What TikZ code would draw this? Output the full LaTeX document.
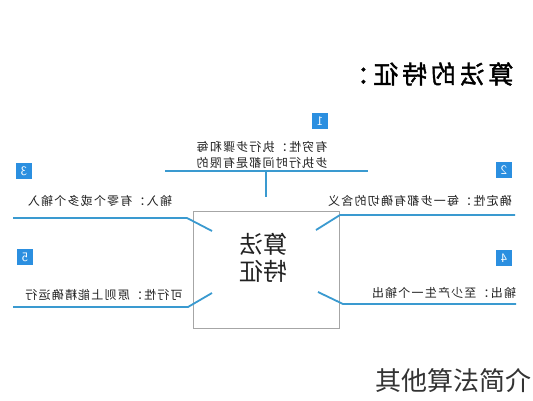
\documentclass[tikz,border=0pt]{standalone}
\usepackage{fontspec}
\usepackage{graphicx}
\newfontfamily\cjk{Noto Sans CJK SC}
\newfontfamily\cjksp[LetterSpace=10]{Noto Sans CJK SC}
\newfontfamily\cjktitle[LetterSpace=15,FakeBold=1.5]{Noto Sans CJK SC}
\definecolor{lineblue}{HTML}{3A9AD0}
\definecolor{badgeblue}{HTML}{2B8FE0}
\definecolor{txt}{HTML}{222222}
\tikzset{
  conn/.style={lineblue, line width=1.8pt},
  badge/.style={fill=badgeblue, text=white, minimum width=16pt, minimum height=16pt, inner sep=0pt, font=\sffamily\fontsize{13}{13}\selectfont},
  feat/.style={font=\cjksp\fontsize{12}{14}\selectfont, text=txt, inner sep=0pt},
  centerbox/.style={draw=gray!70, line width=0.9pt, minimum width=146pt, minimum height=117pt, inner sep=0pt}
}
\begin{document}
\begin{tikzpicture}[x=1pt,y=-1pt]
\useasboundingbox[fill=white] (0,0) rectangle (533,400);
% title
\node[font=\cjktitle\fontsize{25}{28}\selectfont, text=black, inner sep=0pt] (title) at (429,74) {\reflectbox{算法的特征：}};
% center box
\node[centerbox] (box) at (266,270) {};
\node[font=\cjk\fontsize{24}{26}\selectfont, text=txt, inner sep=0pt] (ctxt) at (263,261) {\reflectbox{\begin{tabular}{@{}c@{}}算法\\[-1pt]特征\end{tabular}}};
% badges
\node[badge] (b1) at (320,121) {\reflectbox{1}};
\node[badge] (b2) at (504,170) {\reflectbox{2}};
\node[badge] (b3) at (24,171) {\reflectbox{3}};
\node[badge] (b4) at (504,258) {\reflectbox{4}};
\node[badge] (b5) at (25,257) {\reflectbox{5}};
% feature texts
\node[feat] (t1a) at (262,147) {\reflectbox{有穷性：执行步骤和每}};
\node[feat] (t1b) at (262,163) {\reflectbox{步执行时间都是有限的}};
\node[feat] (t2) at (420,201) {\reflectbox{确定性：每一步都有确切的含义}};
\node[feat] (t3) at (100,201) {\reflectbox{输入：有零个或多个输入}};
\node[feat] (t4) at (444,293) {\reflectbox{输出：至少产生一个输出}};
\node[feat] (t5) at (104,295) {\reflectbox{可行性：原则上能精确运行}};
% connector coordinates
\coordinate (l1a) at (165,171);
\coordinate (l1b) at (368,171);
\coordinate (l1m) at (266,171);
\coordinate (l1d) at (266,197);
\coordinate (l2a) at (515,215);
\coordinate (l2b) at (340,215);
\coordinate (l2c) at (316,230);
\coordinate (l3a) at (13,218);
\coordinate (l3b) at (187,218);
\coordinate (l3c) at (212,231);
\coordinate (l4a) at (516,304);
\coordinate (l4b) at (343,304);
\coordinate (l4c) at (318,292);
\coordinate (l5a) at (13,307);
\coordinate (l5b) at (188,307);
\coordinate (l5c) at (212,293);
\draw[conn] (l1a) -- (l1b);
\draw[conn] (l1m) -- (l1d);
\draw[conn] (l2a) -- (l2b) -- (l2c);
\draw[conn] (l3a) -- (l3b) -- (l3c);
\draw[conn] (l4a) -- (l4b) -- (l4c);
\draw[conn] (l5a) -- (l5b) -- (l5c);
% caption
\node[font=\cjk\fontsize{26}{28}\selectfont, text=black!80, inner sep=0pt] (cap) at (453,381) {其他算法简介};
\end{tikzpicture}
\end{document}
